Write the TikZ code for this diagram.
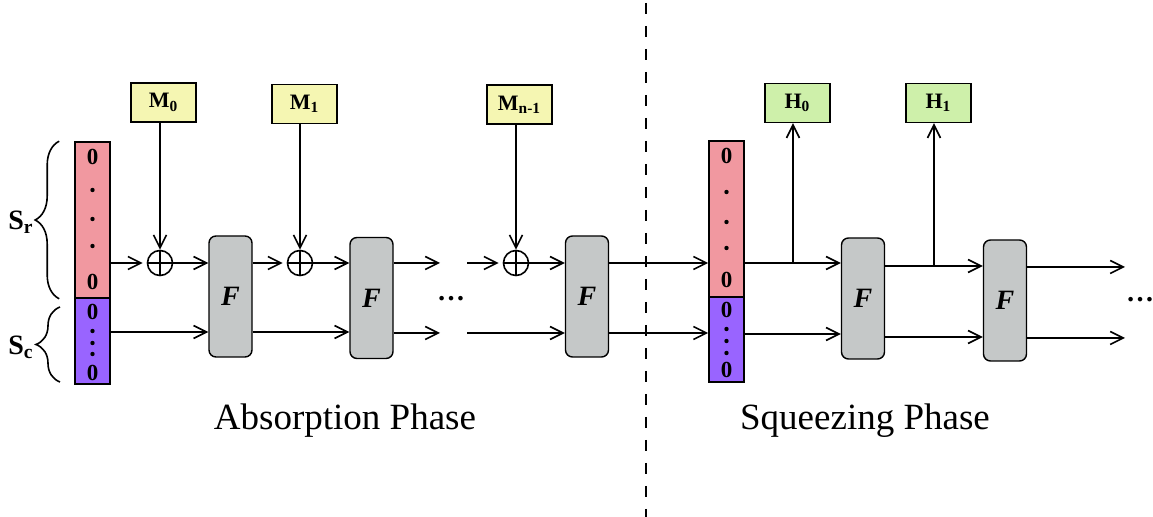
\documentclass[tikz,border=0pt]{standalone}
\usepackage{fontspec}
\setmainfont{Liberation Serif}
\usetikzlibrary{arrows.meta,decorations.pathreplacing}
\definecolor{cellred}{RGB}{241,152,160}
\definecolor{cellpurple}{RGB}{153,100,255}
\definecolor{boxyellow}{RGB}{245,246,178}
\definecolor{boxgreen}{RGB}{206,240,170}
\definecolor{fgray}{RGB}{197,200,200}
\tikzset{
  ln/.style={line width=0.8pt},
  arr/.style={ln, -{Straight Barb[length=6.5pt,width=6.5pt,line width=0.8pt]}},
  redcell/.style={draw, line width=0.8pt, fill=cellred, minimum width=17.5pt, inner sep=0pt},
  purplecell/.style={draw, line width=0.8pt, fill=cellpurple, minimum width=17.5pt, inner sep=0pt},
  digit/.style={inner sep=0pt, font=\fontsize{11.5}{12}\selectfont\bfseries},
  xorop/.style={circle, draw, line width=0.8pt, minimum size=12.5pt, inner sep=0pt},
  fbox/.style={draw, line width=0.7pt, fill=fgray, rounded corners=3.5pt, minimum width=21.5pt, minimum height=60.5pt, inner sep=0pt, font=\fontsize{14}{15}\selectfont\bfseries\itshape},
  mbox/.style={draw, line width=0.7pt, fill=boxyellow, minimum width=32.5pt, minimum height=19.5pt, inner sep=0pt, font=\fontsize{11}{12}\selectfont\bfseries},
  hbox/.style={mbox, fill=boxgreen},
  bracestyle/.style={ln, decorate, decoration={brace, amplitude=12pt}},
  slabel/.style={inner sep=0pt, font=\fontsize{14}{15}\selectfont\bfseries},
  phase/.style={inner sep=0pt, font=\fontsize{18.5}{22}\selectfont},
  dotstext/.style={inner sep=0pt, font=\fontsize{14}{16}\selectfont\bfseries},
  dashline/.style={line width=0.9pt, dash pattern=on 5.5pt off 6pt},
}
\begin{document}
\begin{tikzpicture}[x=0.5pt,y=-0.5pt]
\useasboundingbox (0,0) rectangle (1153,517);

% dashed separator
\coordinate (dtop) at (646,3);
\coordinate (dbot) at (646,517);
\draw[dashline] (dtop) -- (dbot);

% left state
\node[redcell, minimum height=78pt] (redL) at (92.5,220) {};
\node[purplecell, minimum height=43pt] (purL) at (92.5,341) {};
\node[digit] (l0a) at (92.5,157) {0};
\fill (92.5,190) circle (1.1pt);
\fill (92.5,219) circle (1.1pt);
\fill (92.5,246) circle (1.1pt);
\node[digit] (l0b) at (92.5,282) {0};
\node[digit] (l0c) at (92.5,312) {0};
\fill (92.5,331) circle (1.1pt);
\fill (92.5,343) circle (1.1pt);
\fill (92.5,354) circle (1.1pt);
\node[digit] (l0d) at (92.5,373) {0};

% braces
\draw[bracestyle] ([xshift=-7.5pt]redL.south west) -- ([xshift=-7.5pt]redL.north west);
\coordinate (scb) at (60,382);
\coordinate (sct) at (60,307);
\draw[bracestyle] (scb) -- (sct);
\node[slabel] (Sr) at (21,222) {S\textsubscript{r}};
\node[slabel] (Sc) at (21,347) {S\textsubscript{c}};

% right state
\node[redcell, minimum height=78pt] (redR) at (726.5,219) {};
\node[purplecell, minimum height=42.5pt] (purR) at (726.5,339.5) {};
\node[digit] (r0a) at (726.5,156) {0};
\fill (726.5,192) circle (1.1pt);
\fill (726.5,222) circle (1.1pt);
\fill (726.5,248) circle (1.1pt);
\node[digit] (r0b) at (726.5,280) {0};
\node[digit] (r0c) at (726.5,310) {0};
\fill (726.5,329) circle (1.1pt);
\fill (726.5,341) circle (1.1pt);
\fill (726.5,353) circle (1.1pt);
\node[digit] (r0d) at (726.5,370) {0};

% message boxes
\node[mbox] (M0) at (163.5,102.5) {M\textsubscript{0}};
\node[mbox] (M1) at (304.5,104) {M\textsubscript{1}};
\node[mbox] (Mn) at (519.5,104.5) {M\textsubscript{n-1}};
\node[hbox] (H0) at (797.5,103) {H\textsubscript{0}};
\node[hbox] (H1) at (938.5,103) {H\textsubscript{1}};

% xor
\node[xorop] (x1) at (160,263) {};
\node[xorop] (x2) at (300,263) {};
\node[xorop] (x3) at (516,263) {};
\foreach \x in {x1,x2,x3}{
  \draw[ln] (\x.north) -- (\x.south) (\x.west) -- (\x.east);
}

% permutations
\node[fbox] (F1) at (230.5,296.5) {F};
\node[fbox] (F2) at (371.5,298) {F};
\node[fbox] (F3) at (587,296.5) {F};
\node[fbox] (F4) at (863,298.5) {F};
\node[fbox] (F5) at (1005,300.5) {F};

% absorption connectors
\coordinate (lo) at (0,332);
\draw[arr, shorten >=2pt] (redL.east |- x1) -- (x1.west);
\draw[arr] (M0.south -| x1) -- (x1.north);
\draw[arr] (x1.east) -- (F1.west |- x1);
\draw[arr] (purL.east |- lo) -- (F1.west |- lo);
\draw[arr, shorten >=2pt] (F1.east |- x2) -- (x2.west);
\draw[arr] (M1.south -| x2) -- (x2.north);
\draw[arr] (x2.east) -- (F2.west |- x2);
\draw[arr] (F1.east |- lo) -- (F2.west |- lo);
\coordinate (e1) at (440,263);
\coordinate (e2) at (440,333);
\draw[arr] (F2.east |- e1) -- (e1);
\draw[arr] (F2.east |- e2) -- (e2);
\node[dotstext, anchor=base] (dots1) at (451,301) {…};
\coordinate (s1) at (467,263);
\coordinate (s2) at (467,333);
\draw[arr, shorten >=2pt] (s1) -- (x3.west);
\draw[arr] (Mn.south -| x3) -- (x3.north);
\draw[arr] (x3.east) -- (F3.west |- x3);
\draw[arr] (s2) -- (F3.west |- s2);
\draw[arr] (F3.east |- x3) -- (redR.west |- x3);
\draw[arr] (F3.east |- s2) -- (purR.west |- s2);

% squeezing connectors
\coordinate (j0) at (793,263);
\draw[arr] (redR.east |- j0) -- (F4.west |- j0);
\draw[arr] (j0) -- (j0 |- H0.south);
\coordinate (q2) at (0,334);
\draw[arr] (purR.east |- q2) -- (F4.west |- q2);
\coordinate (j1) at (934,266);
\draw[arr] (F4.east |- j1) -- (F5.west |- j1);
\draw[arr] (j1) -- (j1 |- H1.south);
\coordinate (q3) at (0,337);
\draw[arr] (F4.east |- q3) -- (F5.west |- q3);
\coordinate (o1) at (1125,267);
\coordinate (o2) at (1125,338);
\draw[arr] (F5.east |- o1) -- (o1);
\draw[arr] (F5.east |- o2) -- (o2);
\node[dotstext, anchor=base] (dots2) at (1140,302) {…};

% phase labels
\node[phase, anchor=base] (absp) at (345,430) {Absorption Phase};
\node[phase, anchor=base] (sqzp) at (865,430) {Squeezing Phase};
\end{tikzpicture}
\end{document}
